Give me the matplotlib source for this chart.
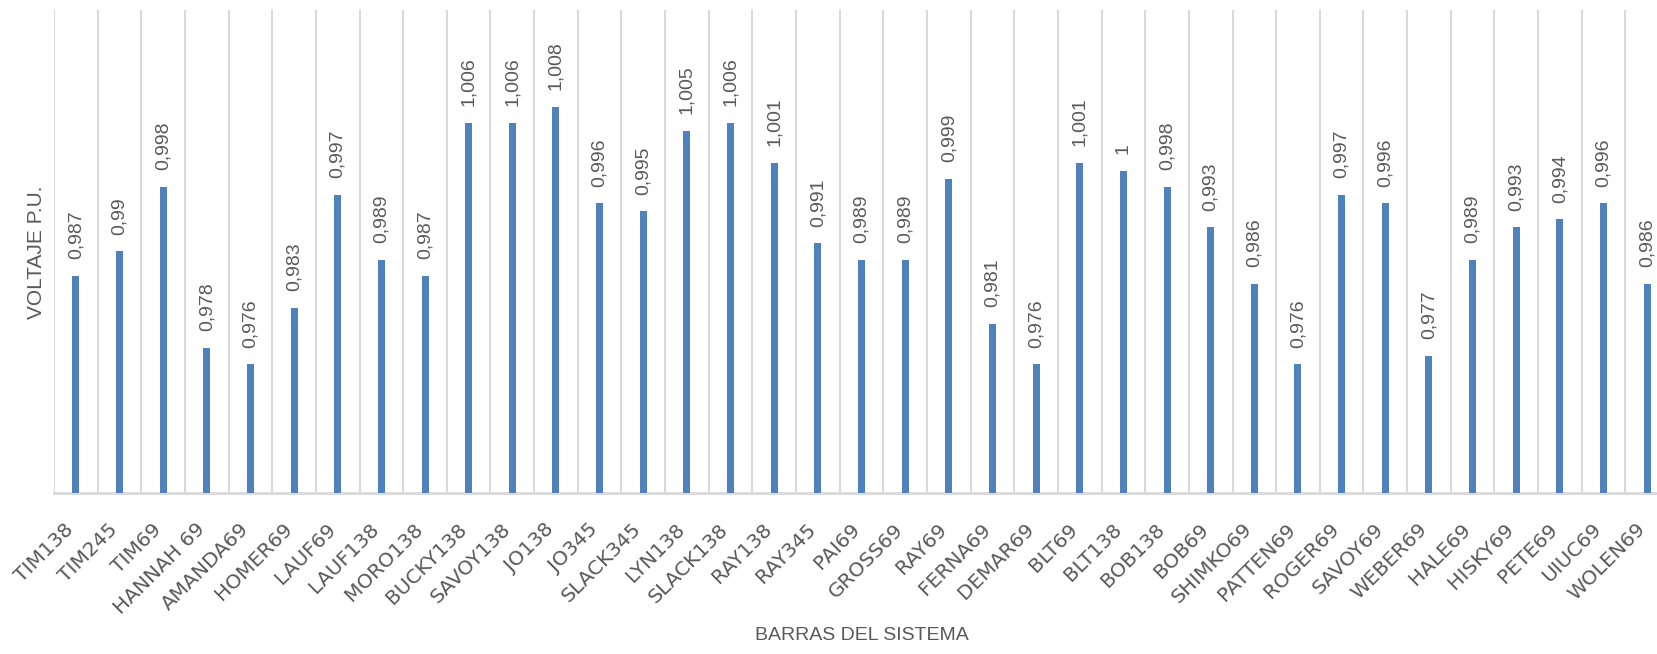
import numpy as np
import matplotlib.pyplot as plt
import matplotlib.transforms as mtransforms

# tensiones por barra (p.u.)
barras = ['TIM138', 'TIM245', 'TIM69', 'HANNAH 69', 'AMANDA69', 'HOMER69', 'LAUF69',
          'LAUF138', 'MORO138', 'BUCKY138', 'SAVOY138', 'JO138', 'JO345', 'SLACK345',
          'LYN138', 'SLACK138', 'RAY138', 'RAY345', 'PAI69', 'GROSS69', 'RAY69',
          'FERNA69', 'DEMAR69', 'BLT69', 'BLT138', 'BOB138', 'BOB69', 'SHIMKO69',
          'PATTEN69', 'ROGER69', 'SAVOY69', 'WEBER69', 'HALE69', 'HISKY69', 'PETE69',
          'UIUC69', 'WOLEN69']
voltaje = [0.987, 0.99, 0.998, 0.978, 0.976, 0.983, 0.997,
           0.989, 0.987, 1.006, 1.006, 1.008, 0.996, 0.995,
           1.005, 1.006, 1.001, 0.991, 0.989, 0.989, 0.999,
           0.981, 0.976, 1.001, 1.0, 0.998, 0.993, 0.986,
           0.976, 0.997, 0.996, 0.977, 0.989, 0.993, 0.994,
           0.996, 0.986]

azul = '#4F81BD'
gris = '#D9D9D9'
texto = '#595959'

fig = plt.figure(figsize=(16.57, 6.54), dpi=100)
ax = fig.add_axes([54/1657, 161/654, 1615/1657, 483/654])

x = np.arange(len(barras))
ax.bar(x, voltaje, width=0.16, color=azul, zorder=3)

for xi, v in zip(x, voltaje):
    ax.annotate(f'{v:g}'.replace('.', ','), (xi, v), xytext=(0, 12),
                textcoords='offset points', rotation=90, ha='center', va='bottom',
                fontsize=14, color=texto, family='Liberation Sans')

ax.set_xlim(-0.5, len(barras) - 0.5)
ax.set_ylim(0.96, 1.02)
ax.set_yticks([])

ax.set_xticks(x)
ax.set_xticklabels(barras, rotation=45, ha='right', va='center', rotation_mode='anchor',
                   fontsize=14.5, color=texto, family='DejaVu Sans')
ax.tick_params(axis='x', length=0, pad=24)
# corre las etiquetas un poco a la izquierda
desplaza = mtransforms.ScaledTranslation(-5/100, 0, fig.dpi_scale_trans)
for lab in ax.get_xticklabels():
    lab.set_transform(lab.get_transform() + desplaza)
ax.set_xticks(np.arange(-0.5, len(barras)), minor=True)
ax.tick_params(axis='x', which='minor', length=0)
ax.grid(which='minor', axis='x', color=gris, linewidth=1.5, zorder=0)

for s in ['top', 'right', 'left']:
    ax.spines[s].set_visible(False)
ax.spines['bottom'].set_color(gris)
ax.spines['bottom'].set_linewidth(2)

fig.text(862/1657, 1 - 636/654, 'BARRAS DEL SISTEMA', ha='center', va='center',
         fontsize=14, color=texto, family='Liberation Sans')
fig.text(37/1657, 1 - 252/654, 'VOLTAJE P.U.', ha='center', va='center', rotation=90,
         fontsize=15, color=texto, family='Liberation Sans')

plt.savefig('out.png', dpi=100)
